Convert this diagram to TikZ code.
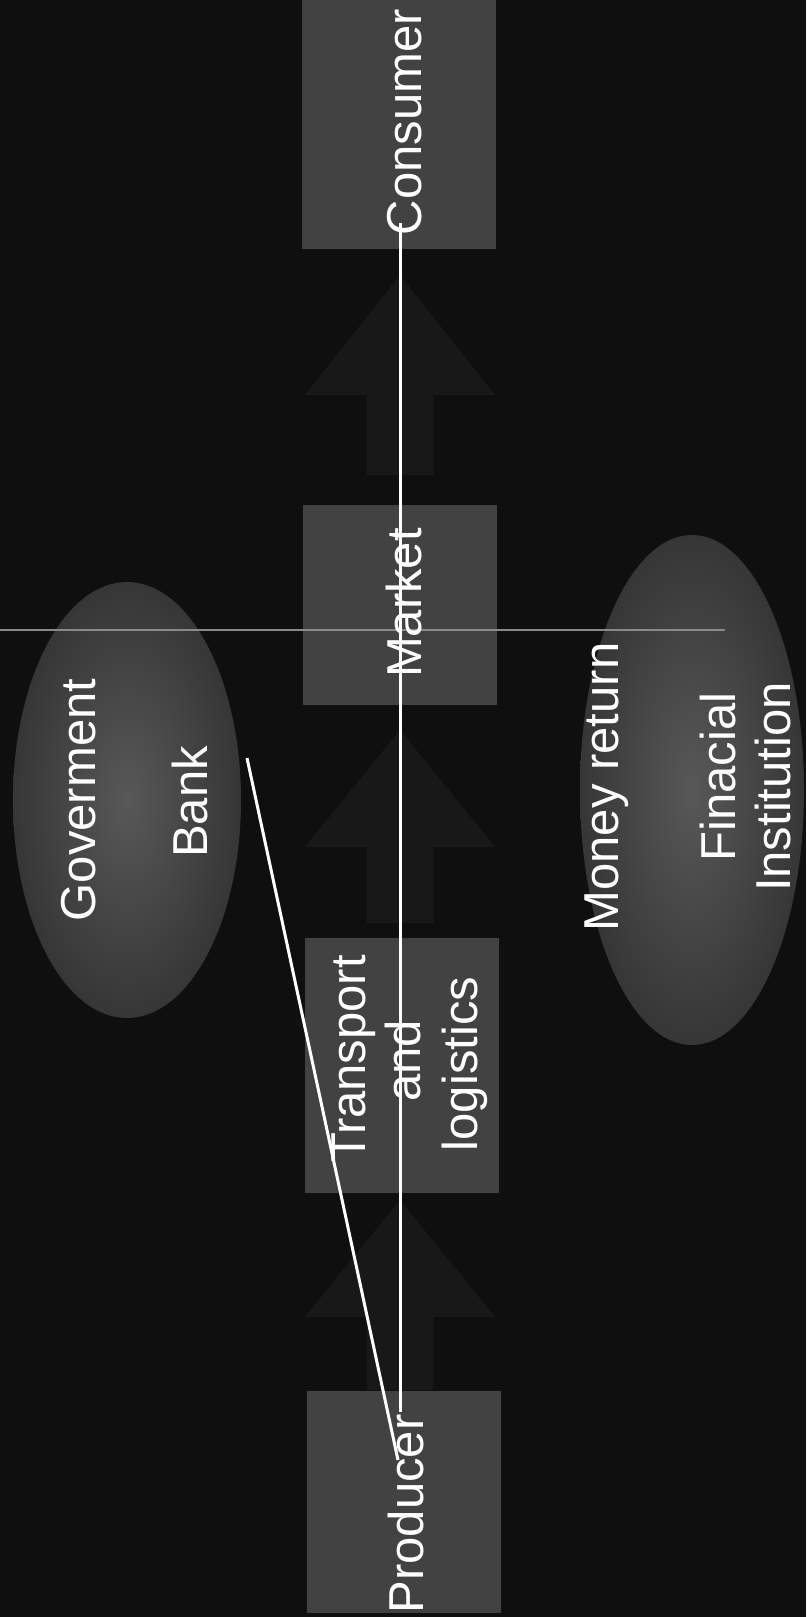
\documentclass[tikz,border=0pt]{standalone}
\usepackage{fontspec}
\setmainfont{Liberation Sans}
\usetikzlibrary{shapes.geometric}
\definecolor{bgcol}{HTML}{0F0F0F}
\definecolor{boxgray}{HTML}{424242}
\definecolor{ovalin}{HTML}{585858}
\definecolor{ovalout}{HTML}{363636}
\definecolor{arrowgray}{HTML}{181818}
\definecolor{hairgray}{HTML}{8A8A8A}
\begin{document}
\begin{tikzpicture}[x=1pt,y=-1pt,
  box/.style={draw=none, fill=boxgray, minimum width=194pt, inner sep=0pt},
  oval/.style={ellipse, draw=none, inner sep=0pt, inner color=ovalin, outer color=ovalout},
  lbl/.style={text=white, rotate=90, anchor=base, inner sep=0pt, font=\fontsize{49}{56}\selectfont},
  arrowshape/.style={fill=arrowgray},
  link/.style={draw=white, line width=3pt},
  hair/.style={draw=hairgray, line width=1.6pt}]
\fill[bgcol] (0,0) rectangle (806,1617);
\useasboundingbox (0,0) rectangle (806,1617);
% ellipses
\node[oval, minimum width=228pt, minimum height=436pt] (gov) at (127,800) {};
\node[oval, minimum width=224pt, minimum height=510pt] (money) at (692,790) {};
% up arrows
\fill[arrowshape] (400,275) -- (495,395) -- (433,395) -- (433,475) -- (367,475) -- (367,395) -- (305,395) -- cycle;
\fill[arrowshape] (400,730) -- (495,847) -- (433,847) -- (433,923) -- (367,923) -- (367,847) -- (305,847) -- cycle;
\fill[arrowshape] (400,1200) -- (495,1317) -- (433,1317) -- (433,1390) -- (367,1390) -- (367,1317) -- (305,1317) -- cycle;
% boxes
\node[box, minimum height=249pt] (consumer) at (399,124.5) {};
\node[box, minimum height=200pt] (market) at (399.5,605) {};
\node[box, minimum height=255pt] (transport) at (402,1065.5) {};
\node[box, minimum height=222pt] (producer) at (403.5,1502) {};
% thin grey rule
\coordinate (hl) at (0,630);
\coordinate (hr) at (725,630);
\draw[hair] (hl) -- (hr);
% labels
\node[lbl] (lconsumer) at (421,122) {Consumer};
\node[lbl] (lmarket) at (421,603) {Market};
\node[lbl] (ltransport) at (365,1059) {Transport};
\node[lbl] (land) at (420,1061) {and};
\node[lbl] (llogistics) at (477,1064) {logistics};
\node[lbl] (lproducer) at (423,1514) {Producer};
\node[lbl] (lgov) at (95,800) {Goverment};
\node[lbl] (lbank) at (207,802) {Bank};
\node[lbl] (lmoney) at (618,787) {Money return};
\node[lbl] (lfin) at (735,777) {Finacial};
\node[lbl] (linst) at (790,787) {Institution};
% white connectors
\coordinate (topend) at (400,223);
\coordinate (botend) at (400,1412);
\draw[link] (topend) -- (botend);
\coordinate (bankend) at (247,758);
\coordinate (prodend) at (398,1460);
\draw[link] (bankend) -- (prodend);
\end{tikzpicture}
\end{document}
